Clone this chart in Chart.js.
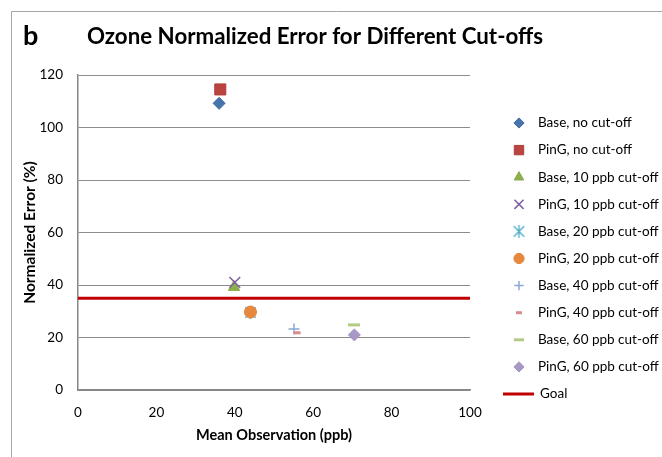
<!DOCTYPE html>
<html><head><meta charset="utf-8">
<script src="https://cdn.jsdelivr.net/npm/chart.js@4.4.1/dist/chart.umd.min.js"></script>
<style>html,body{margin:0;padding:0;background:#fff;}#wrap{width:662px;height:457px;}</style>
</head><body><div id="wrap"><canvas id="c" width="662" height="457"></canvas></div>
<script>
// ---- data ----
const seriesNames = ['Base, no cut-off','PinG, no cut-off','Base, 10 ppb cut-off','PinG, 10 ppb cut-off','Base, 20 ppb cut-off','PinG, 20 ppb cut-off','Base, 40 ppb cut-off','PinG, 40 ppb cut-off','Base, 60 ppb cut-off','PinG, 60 ppb cut-off'];
const meanObs   = [36.0, 36.3, 39.8, 40.0, 44.0, 44.0, 55.1, 55.9, 70.4, 70.5];
const normError = [109.2, 114.5, 39.2, 41.0, 29.5, 29.7, 23.2, 21.8, 24.8, 21.0];
const goalLabel = 'Goal';
const goalX = [0, 100];
const goalY = [35, 35];
const xTickValues = [0, 20, 40, 60, 80, 100];
const yTickValues = [0, 20, 40, 60, 80, 100, 120];
const titleText = 'Ozone Normalized Error for Different Cut-offs';
const panelLabel = 'b';
const xTitle = 'Mean Observation (ppb)';
const yTitle = 'Normalized Error (%)';

// ---- styles ----
const FONT = 'Lato, "Open Sans", sans-serif';
function asteriskCanvas(color, size){
  const c = document.createElement('canvas'); c.width = size; c.height = size;
  const g = c.getContext('2d'); g.strokeStyle = color; g.lineWidth = 1.3;
  const m = size/2, r = size/2 - 1;
  g.beginPath();
  g.moveTo(m, m-r); g.lineTo(m, m+r);
  const d = r*0.8;
  g.moveTo(m-d, m-d); g.lineTo(m+d, m+d);
  g.moveTo(m+d, m-d); g.lineTo(m-d, m+d);
  g.stroke();
  return c;
}
const markerStyles = [
  {pointStyle:'rectRot', radius:6,  bg:'#4674AD', border:'#3F69A2', bw:1},
  {pointStyle:'rect',    radius:7.8,bg:'#BA4440', border:'#B03D3A', bw:1},
  {pointStyle:'triangle',radius:6.5,bg:'#8DB04C', border:'#86A848', bw:1},
  {pointStyle:'crossRot',radius:7.6,bg:'#7B5E9E', border:'#7B5E9E', bw:1.5},
  {pointStyle:asteriskCanvas('#4BACC6',15), radius:7, bg:'#4BACC6', border:'#4BACC6', bw:1.3},
  {pointStyle:'circle',  radius:6,  bg:'#E8883C', border:'#E0843A', bw:1},
  {pointStyle:'cross',   radius:5.5,bg:'#8DA8D8', border:'#8DA8D8', bw:1.5},
  {pointStyle:'line',    radius:3.5,bg:'#D68C8C', border:'#D68C8C', bw:3},
  {pointStyle:'line',    radius:6,  bg:'#B3CB86', border:'#B3CB86', bw:3},
  {pointStyle:'rectRot', radius:6,  bg:'#A898C6', border:'#A294C2', bw:1}
];

const datasets = seriesNames.map((name, i) => ({
  type:'scatter', label:name,
  data:[{x:meanObs[i], y:normError[i]}],
  pointStyle: markerStyles[i].pointStyle,
  pointRadius: markerStyles[i].radius,
  pointBackgroundColor: markerStyles[i].bg,
  pointBorderColor: markerStyles[i].border,
  pointBorderWidth: markerStyles[i].bw,
  order: 20 - i
}));
datasets.push({
  type:'line', label:goalLabel,
  data: goalX.map((x, i) => ({x, y:goalY[i]})),
  borderColor:'#C00000', borderWidth:3, pointRadius:0, fill:false, order:30
});

const framePlugin = {
  id:'frame',
  beforeDraw(chart){
    const ctx = chart.ctx;
    ctx.save();
    ctx.fillStyle = '#fff'; ctx.fillRect(0,0,chart.width,chart.height);
    ctx.strokeStyle = '#A6A6A6'; ctx.lineWidth = 1;
    ctx.beginPath();
    ctx.moveTo(11.5, chart.height); ctx.lineTo(11.5, 11.5); ctx.lineTo(chart.width, 11.5);
    ctx.stroke();
    ctx.restore();
  },
  afterDraw(chart){
    const ctx = chart.ctx;
    ctx.save();
    ctx.fillStyle = '#000';
    ctx.textBaseline = 'alphabetic';
    ctx.font = 'bold 27px ' + FONT;
    ctx.fillText(panelLabel, 23, 45);
    ctx.font = 'bold 22.3px ' + FONT;
    ctx.fillText(titleText, 87, 44);
    // legend
    const lx = 519, ly0 = 123, step = 27.1;
    ctx.font = '13.5px ' + FONT;
    ctx.textBaseline = 'middle';
    chart.data.datasets.forEach((ds, i) => {
      const y = ly0 + i*step;
      if (ds.type === 'line') {
        ctx.strokeStyle = ds.borderColor; ctx.lineWidth = ds.borderWidth;
        ctx.beginPath(); ctx.moveTo(503, y); ctx.lineTo(534, y); ctx.stroke();
        ctx.fillStyle = '#000';
        ctx.fillText(ds.label, 540, y);
        return;
      }
      ctx.fillStyle = ds.pointBackgroundColor;
      ctx.strokeStyle = ds.pointBorderColor;
      ctx.lineWidth = ds.pointBorderWidth;
      Chart.helpers.drawPoint(ctx, {pointStyle: ds.pointStyle, radius: ds.pointRadius*0.85, borderWidth: ds.pointBorderWidth, rotation:0}, lx, y);
      ctx.fillStyle = '#000';
      ctx.fillText(ds.label, 538, y);
    });
    ctx.restore();
  }
};

new Chart(document.getElementById('c'), {
  type:'scatter',
  data:{datasets},
  options:{
    responsive:false, animation:false,
    layout:{padding:{left:0, right:192, top:75, bottom:10}},
    plugins:{legend:{display:false}, tooltip:{enabled:false}, title:{display:false}},
    scales:{
      x:{
        type:'linear', min:0, max:100,
        afterBuildTicks(s){ s.ticks = xTickValues.map(v => ({value:v})); },
        ticks:{color:'#000', padding:15, font:{family:FONT, size:13.5}},
        grid:{display:false, drawTicks:false},
        border:{display:true, color:'#868686', width:1.5},
        title:{display:true, text:xTitle, color:'#000', font:{family:FONT, size:14.5, weight:'bold'}, padding:{top:0, bottom:3}},
        afterFit(s){ s.height = 57; }
      },
      y:{
        type:'linear', min:0, max:120,
        afterBuildTicks(s){ s.ticks = yTickValues.map(v => ({value:v})); },
        ticks:{color:'#000', padding:15, font:{family:FONT, size:13.5}},
        grid:{color:'#8C8C8C', lineWidth:1, drawTicks:false},
        border:{display:true, color:'#868686', width:1.5},
        title:{display:true, text:yTitle, color:'#000', font:{family:FONT, size:15.5, weight:'bold'}, padding:{top:21, bottom:0}},
        afterFit(s){ s.width = 78; }
      }
    }
  },
  plugins:[framePlugin]
});
</script>
</body></html>
